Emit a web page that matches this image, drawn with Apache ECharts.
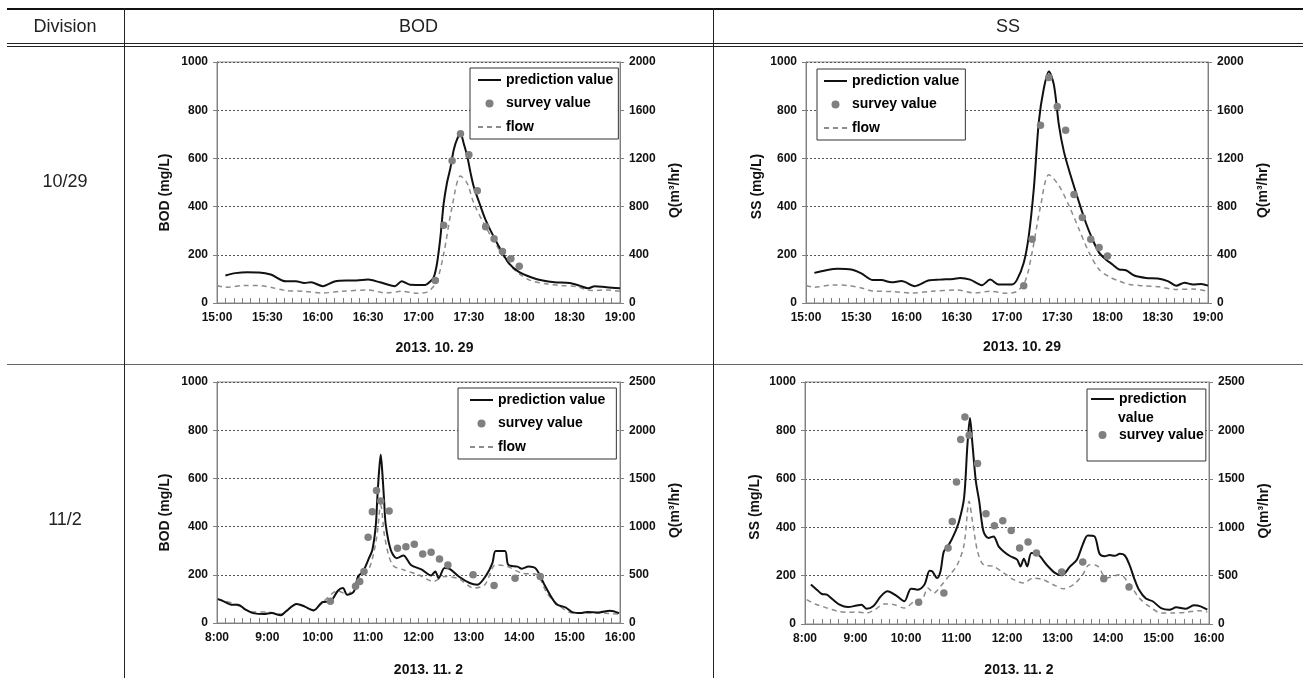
<!DOCTYPE html>
<html><head><meta charset="utf-8">
<script src="https://cdn.jsdelivr.net/npm/echarts@6/dist/echarts.min.js"></script>
<style>html,body{margin:0;padding:0;background:#fff}#c{width:1305px;height:678px}</style>
</head><body><div id="c"></div>
<script>
// ---------- texts ----------
const headerTexts = ['Division', 'BOD', 'SS'];
const rowLabels = ['10/29', '11/2'];
const dateLabels = ['2013. 10. 29', '2013. 10. 29', '2013. 11. 2', '2013. 11. 2'];
const yNames = ['BOD (mg/L)', 'SS (mg/L)', 'BOD (mg/L)', 'SS (mg/L)'];
const qName = 'Q(m³/hr)';
const ticks1029 = ['15:00','15:30','16:00','16:30','17:00','17:30','18:00','18:30','19:00'];
const ticks1102 = ['8:00','9:00','10:00','11:00','12:00','13:00','14:00','15:00','16:00'];

// ---------- 2013.10.29 (minutes after 15:00) ----------
const bod1029PredT = [5,11,18,25,32,41,47,52,56,63,70,77,83,90,97,106,110,115,124,127,129,131,133,135,137,139,141,143,145,147,149,151,153,156,160,167,174,180,187,194,201,210,216,221,225,232,240];
const bod1029PredV = [114,124,128,127,118,90,90,83,86,70,89,93,93,97,86,70,90,76,75,89,105,163,270,413,500,560,636,680,702,660,610,540,480,420,344,246,163,128,107,93,86,83,72,61,70,65,61];
const flow1029BodT = [0,5,16,25,32,41,52,63,74,90,101,110,119,126,131,135,140,145,149,153,160,167,174,180,187,196,205,214,223,232,240];
const flow1029BodQ = [145,130,145,145,130,103,97,83,97,108,83,97,81,97,186,409,798,1054,993,826,632,465,325,242,186,159,145,136,103,108,97];
const surveyT1029 = [130,135,140,145,150,155,160,165,170,175,180];
const bod1029SurvV = [93,323,590,702,615,466,316,267,214,184,152];

const ss1029PredT = [5,12,19,27,33,40,45,51,57,65,73,80,88,92,98,105,110,115,123,126,130,133,136,139,142,145,148,151,154,158,163,167,171,175,179,183,187,191,196,203,210,216,221,226,231,236,240];
const ss1029PredV = [125,136,142,139,123,95,95,86,91,70,93,97,100,104,97,74,97,77,77,97,167,279,474,752,891,961,905,738,627,529,418,334,265,209,181,160,139,136,114,104,102,91,72,84,77,79,72];
const flow1029SsT = [0,5,16,25,33,40,52,63,75,90,101,110,120,126,131,135,140,145,151,157,163,169,175,181,187,193,201,211,221,231,240];
const flow1029SsQ = [145,130,150,145,125,100,95,83,97,108,83,97,80,97,186,420,800,1064,974,808,612,418,278,218,182,154,144,134,112,116,98];
const ss1029SurvV = [72,265,738,936,815,717,450,355,265,230,195];

// ---------- 2013.11.2 (minutes after 8:00) ----------
const bod1102PredT = [1,8,17,25,34,43,56,65,76,82,95,104,115,126,135,144,150,155,163,168,174,181,185,189,191,193,195,197,199,201,207,214,222,231,244,255,260,264,271,277,288,301,310,321,328,332,343,347,358,363,371,380,391,404,415,424,433,441,455,468,479];
const bod1102PredV = [99,90,76,76,55,41,37,41,32,48,79,69,52,87,90,134,145,117,131,193,214,269,303,400,520,628,699,620,510,407,303,269,280,241,221,197,214,186,228,225,193,166,159,200,248,299,299,241,234,225,234,225,152,79,65,44,41,46,44,51,41];
const flow1102BodT = [1,21,43,60,76,95,115,126,144,155,168,181,190,195,200,209,222,240,258,271,288,306,319,332,346,363,380,393,406,424,450,479];
const flow1102BodQ = [248,197,114,114,93,197,138,217,334,293,466,562,879,1224,879,603,552,500,431,483,459,362,397,603,586,517,507,310,190,103,103,93];
const surveyT1102 = [135,165,170,175,180,185,190,195,205,215,225,235,245,255,265,275,305,330,355,385];
const bod1102SurvV = [90,152,172,214,356,462,550,506,465,310,316,327,286,294,266,241,200,156,186,193];

const ss1102PredT = [7,14,20,26,33,41,51,61,67,73,81,90,98,108,118,126,134,142,148,151,157,161,165,171,177,183,189,193,196,199,203,207,212,218,224,230,236,244,252,256,260,264,269,277,287,297,305,315,323,330,336,344,350,356,362,368,374,380,386,391,397,405,413,423,433,441,452,462,470,478];
const ss1102PredV = [163,142,124,121,101,80,70,76,80,63,73,114,135,118,94,146,142,163,220,218,190,218,300,328,369,424,521,741,851,741,590,507,383,355,362,321,300,280,266,238,270,238,293,287,245,211,201,238,266,328,366,362,290,280,285,282,290,283,240,190,140,105,94,66,59,69,63,77,73,59];
const flow1102SsT = [2,12,24,39,51,61,73,83,94,106,118,130,140,146,153,161,169,181,189,195,199,205,212,224,236,248,260,271,283,295,307,319,330,338,348,358,374,386,397,409,423,437,452,468,478];
const flow1102SsQ = [251,207,172,131,121,124,114,148,207,200,165,234,269,372,320,389,475,613,820,1267,1060,750,613,596,527,458,424,475,458,406,365,406,510,613,596,475,510,406,269,182,114,114,121,138,124];
const ss1102SurvV = [90,128,314,424,587,762,855,780,663,456,406,427,386,314,339,293,215,256,187,153];

// ---------- build ----------
const F = "'Liberation Sans', Arial, Helvetica, sans-serif";
const pairs = (t, v) => t.map((x, i) => [x, v[i]]);

const panels = [
  {left:217, top:62, w:403, h:241, xMax:240, xInt:30, ticks:ticks1029, qMax:2000, qInt:400,
   yGap:45, yOff:10, dateGap:38, dateOff:16,
   pred:pairs(bod1029PredT,bod1029PredV), surv:pairs(surveyT1029,bod1029SurvV), flow:pairs(flow1029BodT,flow1029BodQ),
   lg:{left:470, top:68, padding:[5,5,5,7]}},
  {left:806, top:62, w:402, h:241, xMax:240, xInt:30, ticks:ticks1029, qMax:2000, qInt:400,
   yGap:42, yOff:4, dateGap:37, dateOff:15,
   pred:pairs(ss1029PredT,ss1029PredV), surv:pairs(surveyT1029,ss1029SurvV), flow:pairs(flow1029SsT,flow1029SsQ),
   lg:{left:817, top:69, padding:[5,6,5,6]}},
  {left:217, top:382, w:403, h:241, xMax:480, xInt:60, ticks:ticks1102, qMax:2500, qInt:500,
   yGap:45, yOff:10, dateGap:40, dateOff:10,
   pred:pairs(bod1102PredT,bod1102PredV), surv:pairs(surveyT1102,bod1102SurvV), flow:pairs(flow1102BodT,flow1102BodQ),
   lg:{left:458, top:388, padding:[5,11,5,11]}},
  {left:805, top:382, w:404, h:242, xMax:480, xInt:60, ticks:ticks1102, qMax:2500, qInt:500,
   yGap:43, yOff:4, dateGap:39, dateOff:12,
   pred:pairs(ss1102PredT,ss1102PredV), surv:pairs(surveyT1102,ss1102SurvV), flow:pairs(flow1102SsT,flow1102SsQ),
   lg:{left:1087, top:389, padding:[1,2,17,3], two:true}}
];

const axisGray = '#808080';
const labelStyle = {fontFamily:F, fontWeight:'bold', fontSize:12, color:'#111'};
const nameStyle = {fontFamily:F, fontWeight:'bold', fontSize:14, color:'#111'};
const plain = v => String(v);

const grids = [], xAxes = [], yAxes = [], series = [], legends = [];
panels.forEach((p, i) => {
  grids.push({left:p.left, top:p.top, width:p.w, height:p.h, show:true, borderColor:'#8c8c8c', borderWidth:1,
    backgroundColor:'transparent', containLabel:false, outerBoundsMode:'none'});
  xAxes.push({type:'value', gridIndex:i, min:0, max:p.xMax, interval:p.xInt,
    name:dateLabels[i], nameLocation:'middle', nameGap:p.dateGap,
    nameTextStyle:Object.assign({}, nameStyle, {padding:[0,0,0,2*p.dateOff]}),
    axisLine:{show:true, onZero:false, lineStyle:{color:axisGray, width:1}},
    axisTick:{show:true, inside:true, length:5, lineStyle:{color:axisGray}},
    minorTick:{show:true, splitNumber:6, length:5, lineStyle:{color:axisGray}},
    splitLine:{show:false}, minorSplitLine:{show:false},
    axisLabel:Object.assign({margin:9, formatter: v => p.ticks[Math.round(v / p.xInt)]}, labelStyle)});
  yAxes.push({type:'value', gridIndex:i, position:'left', min:0, max:1000, interval:200,
    name:yNames[i], nameLocation:'middle', nameGap:p.yGap, nameRotate:90,
    nameTextStyle:Object.assign({}, nameStyle, {padding:[0,2*p.yOff,0,0]}),
    axisLine:{show:true, onZero:false, lineStyle:{color:axisGray}},
    axisTick:{show:true, length:4, lineStyle:{color:axisGray}},
    splitLine:{show:true, lineStyle:{color:'#555', type:[2,2], width:1}},
    axisLabel:Object.assign({margin:9, formatter:plain}, labelStyle)});
  yAxes.push({type:'value', gridIndex:i, position:'right', min:0, max:p.qMax, interval:p.qInt,
    name:qName, nameLocation:'middle', nameGap:48, nameRotate:90,
    nameTextStyle:Object.assign({}, nameStyle, {padding:[0,16,0,0]}),
    axisLine:{show:true, onZero:false, lineStyle:{color:axisGray}},
    axisTick:{show:true, length:4, lineStyle:{color:axisGray}},
    splitLine:{show:false},
    axisLabel:Object.assign({margin:9, formatter:plain}, labelStyle)});
  series.push({type:'line', name:'flow', xAxisIndex:i, yAxisIndex:2*i+1, data:p.flow, symbol:'none', smooth:0.3,
    lineStyle:{color:'#8c8c8c', width:1.5, type:[5,4]}, itemStyle:{color:'#8c8c8c'}, z:2});
  series.push({type:'line', name:'prediction value', xAxisIndex:i, yAxisIndex:2*i, data:p.pred, symbol:'none', smooth:0.3,
    lineStyle:{color:'#111', width:2}, itemStyle:{color:'#111'}, z:3});
  series.push({type:'line', name:'survey value', xAxisIndex:i, yAxisIndex:2*i, data:p.surv, symbol:'circle', symbolSize:7.5,
    showSymbol:true, lineStyle:{width:0, opacity:0}, itemStyle:{color:'#808080'}, z:4});
  const items = [{name:'prediction value', itemStyle:{opacity:0}}, {name:'survey value', lineStyle:{opacity:0}}];
  if (!p.lg.two) items.push({name:'flow', itemStyle:{opacity:0}});
  legends.push({left:p.lg.left, top:p.lg.top, orient:'vertical', padding:p.lg.padding,
    itemWidth:23, itemHeight:10, itemGap:p.lg.two ? 18 : 9.5,
    borderColor:'#333', borderWidth:1, backgroundColor:'#fff', selectedMode:false,
    textStyle:{fontFamily:F, fontWeight:'bold', fontSize:14, color:'#000', lineHeight:p.lg.two ? 18 : 14},
    formatter: p.lg.two ? (n => n === 'prediction value' ? 'prediction' : n) : (n => n),
    data:items});
});

// table lines and texts
const L = (x1,y1,x2,y2,c,w) => ({type:'line', silent:true, z:10, shape:{x1,y1,x2,y2}, style:{stroke:c, lineWidth:w}});
const T = (x,y,t,font,align) => ({type:'text', silent:true, z:100, x:x, y:y, style:{text:t, font:font, fill:'#222',
  textAlign:align, textVerticalAlign:'middle', align:align, verticalAlign:'middle'}});
const HF = "18px " + F;
const graphics = [
  L(7,9,1303,9,'#111',2),
  L(7,43.5,1303,43.5,'#222',1),
  L(7,46.5,1303,46.5,'#222',1),
  L(7,364.5,1303,364.5,'#666',1),
  L(124.5,8,124.5,678,'#222',1),
  L(713.5,8,713.5,678,'#222',1),
  T(65,27,headerTexts[0],HF,'center'), T(418.5,27,headerTexts[1],HF,'center'), T(1008,27,headerTexts[2],HF,'center'),
  T(65,182,rowLabels[0],HF,'center'), T(65,520,rowLabels[1],HF,'center'),
  // wrapped second line of the narrow legend label in the SS 11/2 panel
  Object.assign(T(1118,418,'value',"bold 14px " + F,'left'), {z:100})
];
graphics[graphics.length-1].style.fill = '#000';

const chart = echarts.init(document.getElementById('c'), null, {renderer:'canvas'});
chart.setOption({
  animation:false, backgroundColor:'#fff',
  grid:grids, xAxis:xAxes, yAxis:yAxes, series:series, legend:legends, graphic:graphics
});
</script></body></html>
